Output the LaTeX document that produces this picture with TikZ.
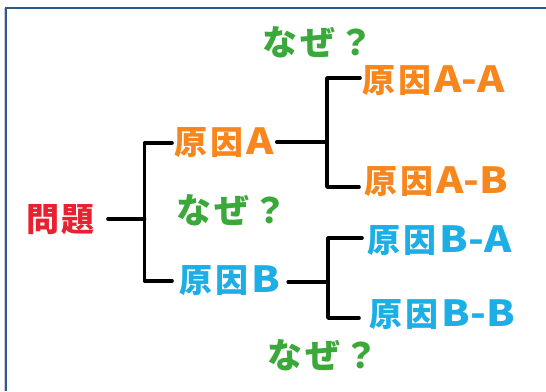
\documentclass[tikz,border=0pt]{standalone}
\usepackage{fontspec}
\usepackage{graphicx}
\usetikzlibrary{calc}
\newfontfamily\jp[LetterSpace=8]{Noto Sans CJK JP}
\newfontfamily\jplat{Noto Sans CJK JP}
\newcommand\lat[1]{\hspace{3pt}\scalebox{1.15}[1]{\jplat\bfseries\fontsize{36}{40}\selectfont #1}}
\definecolor{frameblue}{HTML}{2D5A8E}
\definecolor{framegray}{HTML}{C9CED6}
\definecolor{probred}{HTML}{E8202F}
\definecolor{causeorange}{HTML}{F7861C}
\definecolor{causeblue}{HTML}{1DAEE6}
\definecolor{whygreen}{HTML}{3BA83A}
\tikzset{
  txt/.style={inner ysep=0pt, font=\jp\bfseries\fontsize{33}{36}\selectfont},
  prob/.style={txt, text=probred},
  causeA/.style={txt, text=causeorange},
  causeB/.style={txt, text=causeblue},
  why/.style={txt, text=whygreen, inner sep=0pt, font=\jp\bfseries\fontsize{35}{38}\selectfont},
  tree/.style={line width=3.6pt, line cap=round, line join=round, black},
}
\begin{document}
\begin{tikzpicture}[x=1pt,y=-1pt]
\useasboundingbox (0,0) rectangle (546,391);
\fill[white] (0,0) rectangle (546,391);
% frame
\draw[framegray, line width=1pt] (4,8) -- (4,391);
\draw[frameblue, line width=2pt] (5.8,8) -- (5.8,391);
\draw[frameblue, line width=2pt] (4.8,8) -- (546,8);

% nodes
\node[prob, anchor=east, inner xsep=13pt] (mondai) at (108,220) {問題};
\node[causeA, anchor=west, inner xsep=2.7pt] (ga) at (172,143) {原因\lat{A}};
\node[causeB, anchor=west, inner xsep=7.7pt] (gb) at (172,281) {原因\lat{B}};
\node[causeA, anchor=west, inner xsep=2.7pt] (aa) at (360,81) {原因\lat{A-A}};
\node[causeA, anchor=west, inner xsep=5.7pt] (ab) at (359,182) {原因\lat{A-B}};
\node[causeB, anchor=west, inner xsep=5.7pt] (ba) at (362,241) {原因\lat{B-A}};
\node[causeB, anchor=west, inner xsep=10.7pt] (bb) at (359,315) {原因\lat{B-B}};
\node[why] (why1) at (318,42) {なぜ？};
\node[why] (why2) at (232,210) {なぜ？};
\node[why] (why3) at (323,355) {なぜ？};

\coordinate (j0) at (144.5,219);
\coordinate (j1) at (327,142);
\coordinate (j2) at (328,282);

% connectors
\draw[tree] (mondai.east |- j0) -- (j0);
\draw[tree] (ga.west) -| (j0) |- (gb.west);
\draw[tree] (ga.east |- j1) -- (j1);
\draw[tree] ($(aa.west)+(0,-3)$) -| (j1) |- ($(ab.west)+(0,5)$);
\draw[tree] (gb.east |- j2) -- (j2);
\draw[tree] ($(ba.west)+(0,-3)$) -| (j2) |- ($(bb.west)+(0,3)$);
\end{tikzpicture}
\end{document}
